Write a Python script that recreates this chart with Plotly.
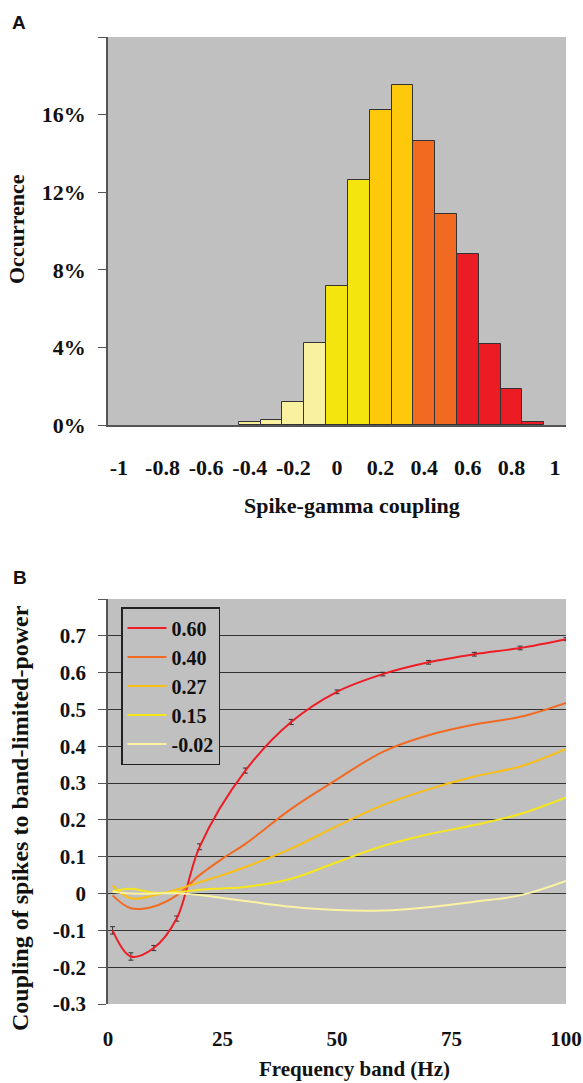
import plotly.graph_objects as go

W, H = 583, 1083

# ---------- Panel A data ----------
bin_centers = [-0.4, -0.3, -0.2, -0.1, 0.0, 0.1, 0.2, 0.3, 0.4, 0.5, 0.6, 0.7, 0.8, 0.9]
occurrence = [0.14, 0.28, 1.17, 4.23, 7.19, 12.65, 16.23, 17.55, 14.66, 10.89, 8.81, 4.20, 1.86, 0.15]
bar_colors = ["#F8EE9C", "#FAF1A0", "#FAF1A0", "#FAF1A0",
              "#F5E50F", "#F5E50F", "#FDC90A", "#FDC90A",
              "#F26A22", "#F26A22", "#EC1C24", "#EC1C24", "#EC1C24", "#EC1C24"]
a_xtick_vals = [-1, -0.8, -0.6, -0.4, -0.2, 0, 0.2, 0.4, 0.6, 0.8, 1]
a_xtick_text = ["-1", "-0.8", "-0.6", "-0.4", "-0.2", "0", "0.2", "0.4", "0.6", "0.8", "1"]
a_ytick_vals = [0, 4, 8, 12, 16, 20]
a_ytick_text = ["0%", "4%", "8%", "12%", "16%", ""]

# ---------- Panel B data ----------
freq_red = [1, 5, 10, 15, 20, 30, 40, 50, 60, 70, 80, 90, 100]
coup_060 = [-0.100, -0.171, -0.148, -0.068, 0.127, 0.334, 0.466, 0.548, 0.596, 0.628, 0.650, 0.667, 0.691]
err_060 = [0.010, 0.010, 0.007, 0.007, 0.008, 0.007, 0.007, 0.005, 0.005, 0.005, 0.005, 0.005, 0.004]

freq = [1, 5, 10, 15, 20, 25, 30, 40, 50, 60, 70, 80, 90, 100]
coup_040 = [-0.005, -0.040, -0.035, -0.005, 0.050, 0.095, 0.135, 0.230, 0.310, 0.385, 0.430, 0.459, 0.480, 0.518]
coup_027 = [0.022, -0.013, -0.005, 0.011, 0.031, 0.050, 0.072, 0.122, 0.183, 0.240, 0.283, 0.318, 0.345, 0.393]
coup_015 = [0.006, 0.013, 0.002, 0.004, 0.010, 0.014, 0.018, 0.040, 0.085, 0.129, 0.161, 0.186, 0.216, 0.261]
coup_m002 = [0.005, 0.000, 0.000, 0.001, -0.004, -0.012, -0.020, -0.036, -0.045, -0.046, -0.037, -0.022, -0.005, 0.034]

series_names = ["0.60", "0.40", "0.27", "0.15", "-0.02"]
series_colors = ["#EE1C25", "#F26A22", "#FBBE12", "#F7E61A", "#FBF3A2"]

b_grid_vals = [-0.2, -0.1, 0, 0.1, 0.2, 0.3, 0.4, 0.5, 0.6, 0.7]
b_ytick_vals = [-0.3, -0.2, -0.1, 0, 0.1, 0.2, 0.3, 0.4, 0.5, 0.6, 0.7, 0.8]
b_ytick_text = ["-0.3", "-0.2", "-0.1", "0", "0.1", "0.2", "0.3", "0.4", "0.5", "0.6", "0.7", ""]
b_xtick_vals = [0, 25, 50, 75, 100]

SERIF = "Liberation Serif, Times New Roman, serif"
SANS = "Liberation Sans, Arial, sans-serif"
BG = "#C0C0C0"
AX = "#555555"
TXT = "#111111"


def px(x):
    return x / W


def py(y):
    return 1 - y / H


fig = go.Figure()

fig.add_trace(go.Bar(
    x=bin_centers, y=occurrence, width=0.1,
    marker=dict(color=bar_colors, line=dict(color="#333333", width=1)),
    xaxis="x", yaxis="y", showlegend=False))

fig.add_trace(go.Scatter(
    x=freq_red, y=coup_060, mode="lines", name=series_names[0],
    line=dict(color=series_colors[0], width=2, shape="spline", smoothing=1.0),
    error_y=dict(type="data", array=err_060, color="#333333", thickness=1, width=2.5),
    xaxis="x2", yaxis="y2"))

other = [coup_040, coup_027, coup_015, coup_m002]
for i, (name, ys, col) in enumerate(zip(series_names[1:], other, series_colors[1:])):
    fig.add_trace(go.Scatter(
        x=freq, y=ys, mode="lines", name=name,
        line=dict(color=col, width=2, shape="spline", smoothing=1.0),
        xaxis="x2", yaxis="y3" if i == len(other) - 1 else "y2"))

tickfont = dict(family=SERIF, size=22, color=TXT, weight="bold")
tickfontB = dict(family=SERIF, size=21, color=TXT, weight="bold")
plotB_dom = [py(1004), py(599)]

fig.update_layout(
    width=W, height=H,
    margin=dict(l=0, r=0, t=0, b=0),
    paper_bgcolor="white",
    plot_bgcolor=BG,
    bargap=0,
    xaxis=dict(domain=[px(108), px(566)], anchor="y", range=[-1.05, 1.05],
               tickvals=a_xtick_vals, ticktext=a_xtick_text, ticks="",
               showgrid=False, zeroline=False, showline=True, linecolor=AX, linewidth=1.5,
               tickfont=tickfont, ticklabelstandoff=22, automargin=False),
    yaxis=dict(domain=[py(425), py(37)], anchor="x", range=[0, 20],
               tickvals=a_ytick_vals, ticktext=a_ytick_text, ticks="outside", ticklen=8,
               tickcolor=AX, showgrid=False, zeroline=False, showline=True, linecolor=AX,
               linewidth=1.5, tickfont=tickfont, ticklabelstandoff=8, automargin=False),
    xaxis2=dict(domain=[px(108), px(566)], anchor="y2", range=[0, 100],
                tickvals=b_xtick_vals, ticks="", showgrid=False, zeroline=False,
                showline=False, tickfont=tickfontB, ticklabelstandoff=20, automargin=False),
    yaxis2=dict(domain=plotB_dom, anchor="x2", range=[-0.3, 0.8],
                tickvals=b_grid_vals, ticks="", showticklabels=False,
                showgrid=True, gridcolor="#333333", gridwidth=1,
                zeroline=False, showline=False, automargin=False),
    yaxis3=dict(domain=plotB_dom, anchor="x2", overlaying="y2", range=[-0.3, 0.8],
                tickvals=b_ytick_vals, ticktext=b_ytick_text, ticks="outside", ticklen=8,
                tickcolor=AX, showgrid=False, zeroline=False, showline=True, linecolor=AX,
                linewidth=1.5, tickfont=tickfontB, ticklabelstandoff=8, automargin=False),
    legend=dict(x=px(121), y=py(607), xanchor="left", yanchor="top",
                bgcolor=BG, bordercolor="#222222", borderwidth=1.5,
                font=dict(family=SERIF, size=20, color=TXT, weight="bold"),
                itemwidth=39, tracegroupgap=0),
    annotations=[
        dict(text="<b>A</b>", x=px(19), y=py(22), xref="paper", yref="paper",
             xanchor="center", yanchor="middle",
             showarrow=False, font=dict(family=SANS, size=19, color=TXT)),
        dict(text="<b>B</b>", x=px(20), y=py(577), xref="paper", yref="paper",
             xanchor="center", yanchor="middle",
             showarrow=False, font=dict(family=SANS, size=19, color=TXT)),
        dict(text="<b>Occurrence</b>", x=px(17), y=py(229), xref="paper", yref="paper",
             xanchor="center", yanchor="middle",
             showarrow=False, textangle=-90, font=dict(family=SERIF, size=22, color=TXT)),
        dict(text="<b>Spike-gamma coupling</b>", x=px(352), y=py(505), xref="paper", yref="paper",
             xanchor="center", yanchor="middle",
             showarrow=False, font=dict(family=SERIF, size=22, color=TXT)),
        dict(text="<b>Coupling of spikes to band-limited-power</b>", x=px(20), y=py(818),
             xref="paper", yref="paper", xanchor="center", yanchor="middle",
             showarrow=False, textangle=-90,
             font=dict(family=SERIF, size=24, color=TXT)),
        dict(text="<b>Frequency band (Hz)</b>", x=px(354), y=py(1069), xref="paper", yref="paper",
             xanchor="center", yanchor="middle",
             showarrow=False, font=dict(family=SERIF, size=21, color=TXT)),
    ],
)

fig.write_html("out.html")
